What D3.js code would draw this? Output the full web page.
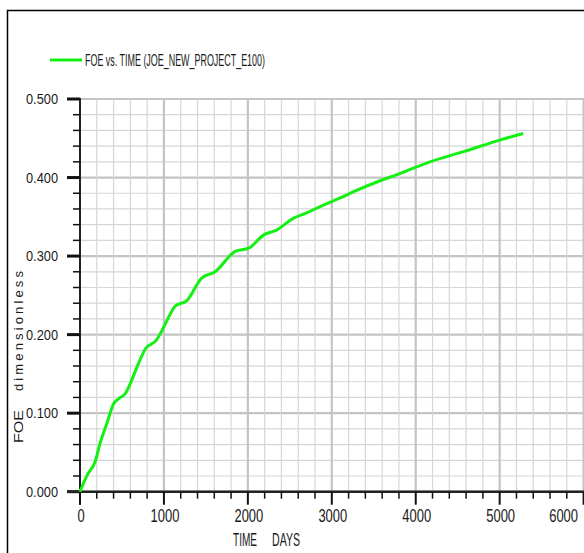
<!DOCTYPE html>
<html>
<head>
<meta charset="utf-8">
<script src="https://cdn.jsdelivr.net/npm/d3@7"></script>
<style>
  body { margin: 0; background: #fff; }
  svg { display: block; }
  text { fill: #1a1a1a; }
</style>
</head>
<body>
<div id="chart"></div>
<script>
// FOE vs TIME
var timeDays = [0, 90, 180, 240, 320, 400, 470, 540, 600, 680, 780, 910, 990, 1090, 1130, 1270,
  1450, 1610, 1850, 2010, 2190, 2340, 2540, 2700, 2900, 3100, 3260, 3530, 3810, 4170, 4570, 5010, 5280];
var foeValues = [0, 0.022, 0.038, 0.062, 0.087, 0.112, 0.119, 0.125, 0.138, 0.159, 0.182, 0.193, 0.208,
  0.229, 0.236, 0.243, 0.272, 0.280, 0.306, 0.310, 0.327, 0.333, 0.348, 0.355, 0.365, 0.374, 0.382,
  0.394, 0.405, 0.420, 0.433, 0.448, 0.456];

var xMajorTicks = [0, 1000, 2000, 3000, 4000, 5000, 6000];
var yMajorTicks = [0, 0.1, 0.2, 0.3, 0.4, 0.5];
var legendLabel = "FOE vs. TIME (JOE_NEW_PROJECT_E100)";

var width = 584, height = 553;
var green = "#14f014";
var narrow = "'Liberation Sans Narrow', 'Arial Narrow', 'Liberation Sans', sans-serif";

var svg = d3.select("#chart").append("svg")
      .attr("width", width)
      .attr("height", height);

var x = d3.scaleLinear().domain([0, 6000]).range([80, 583.6]);
var y = d3.scaleLinear().domain([0, 0.5]).range([491.7, 99]);

// outer frame
svg.append("rect")
  .attr("x", 7.5).attr("y", 10.5)
  .attr("width", 700).attr("height", 700)
  .attr("fill", "none")
  .attr("stroke", "#000")
  .attr("stroke-width", 1.5);

// grid
var xMinor = d3.range(0, 6001, 200);
var yMinor = d3.range(0, 51, 2).map(function(d){ return d / 100; });
var grid = svg.append("g");

grid.selectAll(".hg").data(yMinor).enter().append("line")
  .attr("x1", x(0)).attr("x2", width)
  .attr("y1", function(d){ return y(d); })
  .attr("y2", function(d){ return y(d); })
  .attr("stroke", function(d){ return Math.round(d * 100) % 10 === 0 ? "#c4c4c4" : "#d6d6d6"; })
  .attr("stroke-width", function(d){ return Math.round(d * 100) % 10 === 0 ? 2.2 : 1.2; });

grid.selectAll(".vg").data(xMinor.filter(function(d){ return d > 0; })).enter().append("line")
  .attr("y1", y(0)).attr("y2", y(0.5))
  .attr("x1", function(d){ return x(d); })
  .attr("x2", function(d){ return x(d); })
  .attr("stroke", function(d){ return d % 1000 === 0 ? "#c4c4c4" : "#d6d6d6"; })
  .attr("stroke-width", function(d){ return d % 1000 === 0 ? 2.2 : 1.2; });

// y axis
var yAxis = svg.append("g");
yAxis.append("line")
  .attr("x1", x(0)).attr("x2", x(0))
  .attr("y1", y(0.5) - 1).attr("y2", y(0) + 13)
  .attr("stroke", "#222").attr("stroke-width", 2);
yAxis.selectAll(".yt").data(yMinor).enter().append("line")
  .attr("x1", function(d){ return Math.round(d * 100) % 10 === 0 ? x(0) - 13 : x(0) - 7; })
  .attr("x2", x(0))
  .attr("y1", function(d){ return y(d); })
  .attr("y2", function(d){ return y(d); })
  .attr("stroke", "#111")
  .attr("stroke-width", function(d){ return Math.round(d * 100) % 10 === 0 ? 3 : 1.5; });
yAxis.selectAll(".yl").data(yMajorTicks).enter().append("text")
  .attr("x", 58)
  .attr("y", function(d){ return y(d) + 5; })
  .attr("text-anchor", "end")
  .attr("font-family", narrow)
  .attr("font-size", 15)
  .attr("textLength", 32)
  .attr("lengthAdjust", "spacingAndGlyphs")
  .text(d3.format(".3f"));

// x axis
var xAxis = svg.append("g");
xAxis.append("line")
  .attr("x1", x(0) - 13).attr("x2", width)
  .attr("y1", y(0)).attr("y2", y(0))
  .attr("stroke", "#222").attr("stroke-width", 2.5);
xAxis.selectAll(".xt").data(xMinor).enter().append("line")
  .attr("x1", function(d){ return x(d); })
  .attr("x2", function(d){ return x(d); })
  .attr("y1", y(0))
  .attr("y2", function(d){ return d % 1000 === 0 ? y(0) + 13 : y(0) + 7; })
  .attr("stroke", "#111")
  .attr("stroke-width", function(d){ return d % 1000 === 0 ? 2 : 1.5; });
xAxis.selectAll(".xl").data(xMajorTicks).enter().append("text")
  .attr("x", function(d){ return d === 6000 ? 578 : x(d) + 1; })
  .attr("y", 522)
  .attr("text-anchor", function(d){ return d === 6000 ? "end" : "middle"; })
  .attr("font-family", narrow)
  .attr("font-size", 18)
  .attr("textLength", function(d){ return String(d).length * 7.2; })
  .attr("lengthAdjust", "spacingAndGlyphs")
  .text(function(d){ return d; });

// axis titles
svg.append("text")
  .attr("x", 233).attr("y", 546)
  .attr("font-family", narrow).attr("font-size", 18)
  .attr("textLength", 24).attr("lengthAdjust", "spacingAndGlyphs")
  .text("TIME");
svg.append("text")
  .attr("x", 272).attr("y", 546)
  .attr("font-family", narrow).attr("font-size", 18)
  .attr("textLength", 28).attr("lengthAdjust", "spacingAndGlyphs")
  .text("DAYS");

svg.append("text")
  .attr("transform", "translate(23,443) rotate(-90)")
  .attr("font-family", "'Liberation Sans', Arial, sans-serif").attr("font-size", 12)
  .attr("textLength", 33).attr("lengthAdjust", "spacingAndGlyphs")
  .text("FOE");
svg.append("text")
  .attr("transform", "translate(23,391) rotate(-90)")
  .attr("font-family", "'Liberation Sans', Arial, sans-serif").attr("font-size", 13)
  .attr("textLength", 120).attr("lengthAdjust", "spacing")
  .text("dimensionless");

// legend
svg.append("line")
  .attr("x1", 50).attr("x2", 82)
  .attr("y1", 60).attr("y2", 60)
  .attr("stroke", green).attr("stroke-width", 3);
svg.append("text")
  .attr("x", 85).attr("y", 66)
  .attr("font-family", narrow).attr("font-size", 16)
  .attr("textLength", 180).attr("lengthAdjust", "spacingAndGlyphs")
  .text(legendLabel);

// curve
var line = d3.line()
  .x(function(d){ return x(d[0]); })
  .y(function(d){ return y(d[1]); })
  .curve(d3.curveMonotoneX);

svg.append("path")
  .datum(d3.zip(timeDays, foeValues))
  .attr("fill", "none")
  .attr("stroke", green)
  .attr("stroke-width", 3)
  .attr("stroke-linejoin", "round")
  .attr("d", line);
</script>
</body>
</html>
